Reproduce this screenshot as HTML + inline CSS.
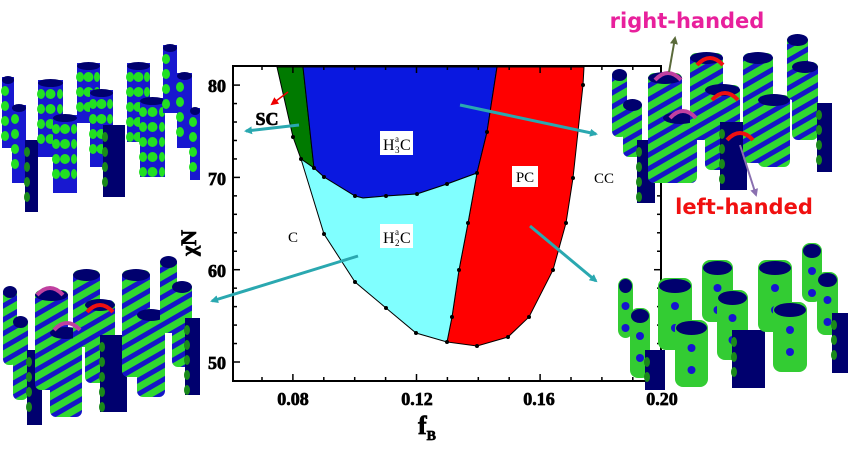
<!DOCTYPE html>
<html><head><meta charset="utf-8"><style>
html,body{margin:0;padding:0;background:#fff;}
svg{display:block}
text{font-family:"Liberation Serif",serif;}
.b{font-weight:bold;stroke:#000;stroke-width:0.7px;}
</style></head><body>
<svg id="s" width="851" height="456" viewBox="0 0 851 456" xmlns="http://www.w3.org/2000/svg">
<defs>
<pattern id="hx" width="12" height="12" patternUnits="userSpaceOnUse" patternTransform="rotate(-30)">
<rect width="12" height="12" fill="#30d830"/><rect width="12" height="5" fill="#1515c8"/></pattern>
<marker id="ah" markerWidth="8" markerHeight="8" refX="6" refY="4" orient="auto" markerUnits="userSpaceOnUse"><path d="M0,0L8,4L0,8z" fill="#2aa8b0"/></marker>
<marker id="ar" markerWidth="8" markerHeight="8" refX="6" refY="4" orient="auto" markerUnits="userSpaceOnUse"><path d="M0,0L8,4L0,8z" fill="#e00"/></marker>
<marker id="ag" markerWidth="8" markerHeight="8" refX="6" refY="4" orient="auto" markerUnits="userSpaceOnUse"><path d="M0,0L8,4L0,8z" fill="#5a6a3a"/></marker>
<marker id="ap" markerWidth="8" markerHeight="8" refX="6" refY="4" orient="auto" markerUnits="userSpaceOnUse"><path d="M0,0L8,4L0,8z" fill="#8a70b0"/></marker>
</defs>
<g id="plot">
<polygon fill="#007a00" stroke="#000" stroke-width="1" points="277,67 303,67 314,168 301,159 293,137"/>
<polygon fill="#0a18e0" stroke="#000" stroke-width="1" points="303,67 497,67 487,132 477,173 447,184 417,194 386,196 363,198 355,196 324,177 314,168"/>
<polygon fill="#ff0000" stroke="#000" stroke-width="1" points="497,67 584,67 583,85 573,178 566,223 553,270 529,317 508,337 477,346 447,342 452,317 459,270 468,223 477,173 487,132"/>
<polygon fill="#80ffff" stroke="#000" stroke-width="1" points="301,159 314,168 324,177 355,196 363,198 386,196 417,194 447,184 477,173 468,223 459,270 452,317 447,342 416,333 386,308 355,282 324,234"/>
<g id="dots" fill="#000"></g>
<rect x="233" y="66" width="428" height="315" fill="none" stroke="#000" stroke-width="2"/>
<g id="ticks" stroke="#000" stroke-width="1.5"></g>
<rect x="380" y="131" width="33" height="24" fill="#fff"/>
<text x="383" y="150" font-size="16">H</text><text x="395" y="142" font-size="9">a</text><text x="395" y="153" font-size="9">3</text><text x="400" y="150" font-size="16">C</text>
<rect x="380" y="224" width="33" height="24" fill="#fff"/>
<text x="383" y="243" font-size="16">H</text><text x="395" y="235" font-size="9">a</text><text x="395" y="246" font-size="9">2</text><text x="400" y="243" font-size="16">C</text>
<rect x="512" y="166" width="26" height="21" fill="#fff"/>
<text x="525" y="182" font-size="15" text-anchor="middle">PC</text>
<text x="604" y="183" font-size="15" text-anchor="middle">CC</text>
<text x="293" y="242" font-size="15" text-anchor="middle">C</text>
<text x="267" y="125" font-size="18" class="b" text-anchor="middle">SC</text>
<line x1="288" y1="92" x2="272" y2="104" stroke="#e00" stroke-width="1.5" marker-end="url(#ar)"/>
<g font-size="18" class="b" text-anchor="end">
<text x="226" y="92">80</text><text x="226" y="185">70</text><text x="226" y="277">60</text><text x="226" y="369">50</text>
</g>
<g font-size="18" class="b" text-anchor="middle">
<text x="293" y="405">0.08</text><text x="417" y="405">0.12</text><text x="539" y="405">0.16</text><text x="662" y="405">0.20</text>
</g>
<text x="427" y="434" font-size="26" class="b" text-anchor="middle">f<tspan font-size="14" dy="6">B</tspan></text>
<text transform="translate(196,243) rotate(-90)" font-size="22" class="b" text-anchor="middle">χN</text>
</g>
<g id="img"></g>
<g stroke="#2aa8b0" stroke-width="3" fill="none">
<line x1="299" y1="125" x2="246" y2="131" marker-end="url(#ah)"/>
<line x1="358" y1="256" x2="212" y2="301" marker-end="url(#ah)"/>
<line x1="460" y1="105" x2="596" y2="134" marker-end="url(#ah)"/>
<line x1="530" y1="226" x2="596" y2="281" marker-end="url(#ah)"/>
</g>
<line x1="669" y1="72" x2="675" y2="38" stroke="#5a6a3a" stroke-width="2" marker-end="url(#ag)"/>
<line x1="740" y1="145" x2="756" y2="195" stroke="#8a70b0" stroke-width="2" marker-end="url(#ap)"/>
<text x="687" y="28" font-size="21" fill="#e8209c" text-anchor="middle" style="font-family:'DejaVu Sans',sans-serif;font-weight:bold">right-handed</text>
<text x="744" y="214" font-size="21" fill="#f01010" text-anchor="middle" style="font-family:'DejaVu Sans',sans-serif;font-weight:bold">left-handed</text>
</svg>
<script>
var NS="http://www.w3.org/2000/svg";
function el(p,t,a){var e=document.createElementNS(NS,t);for(var k in a)e.setAttribute(k,a[k]);p.appendChild(e);return e;}
var d=document.getElementById('dots');
[[293,137],[301,159],[324,234],[355,282],[386,308],[416,333],[447,342],[477,346],[508,337],[529,317],[553,270],[566,223],[573,178],[583,85],[314,168],[324,177],[355,196],[386,196],[417,194],[447,184],[477,173],[487,132],[468,223],[459,270],[452,317]].forEach(function(p){el(d,'circle',{cx:p[0],cy:p[1],r:2});});
var t=document.getElementById('ticks');
for(var i=0;i<14;i++){var x=262+i*30.9;if(x<234||x>660)continue;var maj=(i%4==1);el(t,'line',{x1:x,y1:381,x2:x,y2:381-(maj?7:4)});el(t,'line',{x1:x,y1:66,x2:x,y2:66+(maj?7:4)});}
for(var v=48;v<=82;v+=2){var y=362-(v-50)*9.23;if(y<67||y>380)continue;var m=(v%10==0);el(t,'line',{x1:233,y1:y,x2:233+(m?7:4),y2:y});el(t,'line',{x1:661,y1:y,x2:661-(m?7:4),y2:y});}
var g=document.getElementById('img');
function sph(x,y,w,h){el(g,'rect',{x:x,y:y,width:w,height:h,fill:'#1818d0'});el(g,'ellipse',{cx:x+w/2,cy:y+3,rx:w/2,ry:4,fill:'#00006e'});
for(var yy=y+14;yy<y+h-4;yy+=15){el(g,'ellipse',{cx:x+3,cy:yy,rx:4,ry:5,fill:'#22e022'});if(w>18){el(g,'ellipse',{cx:x+w/2,cy:yy,rx:5,ry:5,fill:'#22e022'});el(g,'ellipse',{cx:x+w-3,cy:yy,rx:3,ry:5,fill:'#22e022'});}}}
function navy(x,y,w,h){el(g,'rect',{x:x,y:y,width:w,height:h,fill:'#00006e'});for(var yy=y+12;yy<y+h-4;yy+=15){el(g,'ellipse',{cx:x+2,cy:yy,rx:3,ry:5,fill:'#1a8a1a'});}}
function hel(x,y,w,h){el(g,'rect',{x:x,y:y,width:w,height:h,rx:6,fill:'url(#hx)'});el(g,'ellipse',{cx:x+w/2,cy:y+5,rx:w/2,ry:6,fill:'#00006e'});}
function gyr(x,y,w,h){el(g,'rect',{x:x,y:y,width:w,height:h,rx:8,fill:'#33cc33'});el(g,'ellipse',{cx:x+w/2,cy:y+8,rx:w/2-1,ry:7,fill:'#00006e'});for(var yy=y+28;yy<y+h-6;yy+=22)el(g,'circle',{cx:x+w/2,cy:yy,r:4,fill:'#1515d0'});}
sph(2,77,12,71);sph(12,105,14,78);navy(25,140,13,72);sph(38,80,25,77);sph(53,115,24,78);sph(77,63,23,60);sph(90,90,23,77);navy(103,125,22,72);sph(127,63,23,79);sph(140,98,25,79);sph(163,45,14,68);sph(177,73,15,75);sph(190,108,10,72);
hel(3,287,14,78);hel(13,317,15,83);navy(27,350,15,75);hel(35,290,33,100);hel(50,328,32,89);hel(73,270,27,77);hel(85,300,30,83);navy(100,335,27,77);hel(122,270,28,107);hel(137,310,28,87);hel(160,257,17,76);hel(172,282,20,85);navy(185,318,15,77);
hel(612,70,15,67);hel(623,100,19,57);navy(637,140,18,63);hel(648,73,34,110);hel(663,113,34,70);hel(690,53,33,87);hel(705,85,35,85);navy(720,122,27,68);hel(743,53,30,110);hel(758,95,32,72);hel(787,35,21,65);hel(792,62,26,78);navy(817,103,15,69);
gyr(618,278,15,60);gyr(630,308,20,70);navy(645,350,20,40);gyr(658,278,34,72);gyr(675,320,33,67);gyr(702,260,31,62);gyr(717,290,31,70);navy(732,330,33,58);gyr(758,260,34,72);gyr(773,302,34,70);gyr(802,243,20,59);gyr(817,272,21,63);navy(832,313,16,60);
function arc(cx,cy,c){el(g,'path',{d:'M'+(cx-13)+','+cy+' Q'+cx+','+(cy-14)+' '+(cx+13)+','+cy,stroke:c,'stroke-width':4,fill:'none'});}
arc(668,80,'#c040a0');arc(683,118,'#c040a0');arc(710,65,'#f01010');arc(725,100,'#f01010');arc(740,140,'#f01010');
arc(50,295,'#c040a0');arc(67,330,'#c040a0');arc(100,312,'#f01010');
</script>
</body></html>
